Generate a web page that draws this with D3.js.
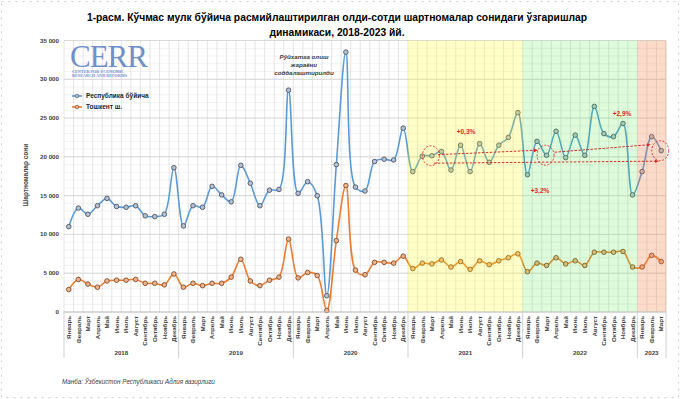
<!DOCTYPE html>
<html>
<head>
<meta charset="utf-8">
<script src="https://cdn.jsdelivr.net/npm/d3@7"></script>
<style>
  body { margin: 0; background: #fff; }
  svg { font-family: "Liberation Sans", Arial, sans-serif; }
</style>
</head>
<body>
<div class="chart"></div>
<script>
//chart data
var years = ['2018', '2019', '2020', '2021', '2022', '2023'];
var monthNames = ['Январь', 'Февраль', 'Март', 'Апрель', 'Май', 'Июнь', 'Июль',
  'Август', 'Сентябрь', 'Октябрь', 'Ноябрь', 'Декабрь'];
var monthsPerYear = [12, 12, 12, 12, 12, 3];

var respublika = [
  11000, 13400, 12600, 13700, 14650, 13600, 13500, 13700, 12400, 12300, 12600, 18600,
  11100, 13700, 13500, 16200, 15100, 14200, 18900, 16600, 13700, 15700, 15800, 28600,
  15300, 16800, 15000, 2100, 19000, 33500, 16100, 15600, 19400, 19700, 19600, 23700,
  18100, 20100, 20150, 20700, 18300, 21500, 18100, 21700, 19300, 21500, 22500, 25700,
  17700, 22000, 20210, 23300, 19900, 22800, 20200, 26500, 23000, 22600, 24300, 15100,
  18100, 22600, 20800
];
var toshkent = [
  2900, 4200, 3600, 3200, 4000, 4100, 4100, 4200, 3700, 3700, 3500, 4900,
  3200, 3700, 3400, 3700, 3700, 4500, 6800, 4000, 3400, 4100, 4500, 9400,
  4400, 5100, 4700, 200, 9200, 16300, 5400, 4800, 6400, 6400, 6300, 7200,
  5600, 6300, 6200, 6700, 5800, 6500, 5500, 6600, 6100, 6600, 7000, 7500,
  5200, 6300, 6000, 7000, 6200, 6600, 6000, 7700, 7700, 7700, 7800, 5800,
  5800, 7300, 6500
];
var yTicks = [0, 5000, 10000, 15000, 20000, 25000, 30000, 35000];
var seriesNames = ['Республика бўйича', 'Тошкент ш.'];
//shaded years
var bandYears = [
  { year: '2021', color: 'rgba(255,255,0,0.22)' },
  { year: '2022', color: 'rgba(60,235,40,0.17)' },
  { year: '2023', color: 'rgba(245,115,50,0.26)' }
];
//march-to-march changes
var changes = [
  { label: '+0,3%', from: '2021|Март', to: '2022|Март' },
  { label: '+2,9%', from: '2022|Март', to: '2023|Март' },
  { label: '+3,2%', from: '2021|Март', to: '2023|Март' }
];

//build categories
var categories = [];
years.forEach(function(y, i){
  for (var m = 0; m < monthsPerYear[i]; m++) {
    categories.push({ key: y + '|' + monthNames[m], year: y, month: monthNames[m] });
  }
});

var width = 680, height = 399;
var plot = { left: 64, right: 666, top: 40.5, bottom: 312 };

var svg = d3.select('.chart')
  .append('svg')
    .attr('width', width)
    .attr('height', height);

var x = d3.scaleBand()
  .domain(categories.map(function(d){ return d.key }))
  .range([plot.left, plot.right])
  .padding(0);

var y = d3.scaleLinear()
  .domain([0, 35000])
  .range([plot.bottom, plot.top]);

var cx = function(key){ return x(key) + x.bandwidth() / 2 };
var fmt = function(v){ return v === 0 ? '0' : d3.format(',')(v).replace(/,/g, ' ') };

//page border
svg.append('rect')
  .attr('x', 1.5).attr('y', 1.5)
  .attr('width', width - 3).attr('height', height - 3)
  .attr('fill', 'none')
  .attr('stroke', '#d0d0d0')
  .attr('stroke-dasharray', '2,5');

//grid
var grid = svg.append('g');
grid.selectAll('.minor')
  .data(d3.range(0, 35001, 1000))
  .enter().append('line')
    .attr('x1', plot.left).attr('x2', plot.right)
    .attr('y1', function(d){ return y(d) }).attr('y2', function(d){ return y(d) })
    .attr('stroke', '#ececec').attr('stroke-width', 0.7);
grid.selectAll('.vline')
  .data(categories)
  .enter().append('line')
    .attr('x1', function(d){ return x(d.key) }).attr('x2', function(d){ return x(d.key) })
    .attr('y1', plot.top).attr('y2', plot.bottom)
    .attr('stroke', '#dadada').attr('stroke-width', 0.7);
grid.append('line')
  .attr('x1', plot.right).attr('x2', plot.right)
  .attr('y1', plot.top).attr('y2', plot.bottom)
  .attr('stroke', '#d0d0d0');
grid.selectAll('.major')
  .data(yTicks)
  .enter().append('line')
    .attr('x1', plot.left).attr('x2', plot.right)
    .attr('y1', function(d){ return y(d) }).attr('y2', function(d){ return y(d) })
    .attr('stroke', '#d0d0d0').attr('stroke-width', 0.8);

//y axis labels
svg.selectAll('.ytick')
  .data(yTicks)
  .enter().append('text')
    .attr('x', 59)
    .attr('y', function(d){ return y(d) + 2 })
    .attr('text-anchor', 'end')
    .attr('font-size', 6.2)
    .attr('font-weight', 'bold')
    .attr('fill', '#404040')
    .text(fmt);

svg.append('text')
  .attr('transform', 'translate(28,175) rotate(-90)')
  .attr('text-anchor', 'middle')
  .attr('font-size', 6.5)
  .attr('font-weight', 'bold')
  .attr('fill', '#404040')
  .text('Шартномалар сони');

//logo
var logo = svg.append('g');
logo.append('text')
  .attr('x', 70).attr('y', 67)
  .attr('font-family', '"Liberation Serif", "DejaVu Serif", serif')
  .attr('font-size', 31)
  .attr('letter-spacing', -1)
  .attr('fill', '#6f8fc9')
  .text('CERR');
logo.selectAll('.sub')
  .data(['CENTER FOR ECONOMIC', 'RESEARCH AND REFORMS'])
  .enter().append('text')
    .attr('x', 72)
    .attr('y', function(d, i){ return 73 + i * 4.3 })
    .attr('font-family', '"Liberation Serif", serif')
    .attr('font-size', 4.2)
    .attr('font-weight', 'bold')
    .attr('fill', '#6f8fc9')
    .text(function(d){ return d });

//series
var seriesStyles = [
  { data: respublika, color: '#5b9bd5', stroke: '#4a5566', fill: '#b6c2d2' },
  { data: toshkent, color: '#ed7d31', stroke: '#7d4a2a', fill: '#f1b48a' }
];

var line = d3.line()
  .x(function(d){ return cx(d.key) })
  .y(function(d){ return y(d.v) })
  .curve(d3.curveCatmullRom.alpha(0.5));

seriesStyles.slice().reverse().forEach(function(s){
  var pts = categories.map(function(c, i){ return { key: c.key, v: s.data[i] } });
  svg.append('path')
    .datum(pts)
    .attr('d', line)
    .attr('fill', 'none')
    .attr('stroke', s.color)
    .attr('stroke-width', 1.6);
  svg.append('g').selectAll('circle')
    .data(pts)
    .enter().append('circle')
      .attr('cx', function(d){ return cx(d.key) })
      .attr('cy', function(d){ return y(d.v) })
      .attr('r', 2.3)
      .attr('fill', s.fill)
      .attr('stroke', s.stroke)
      .attr('stroke-width', 0.9);
});

//year shading over lines
bandYears.forEach(function(b){
  var keys = categories.filter(function(c){ return c.year === b.year });
  var x0 = x(keys[0].key), x1 = x(keys[keys.length - 1].key) + x.bandwidth();
  svg.append('rect')
    .attr('x', x0).attr('y', plot.top)
    .attr('width', x1 - x0).attr('height', plot.bottom - plot.top)
    .attr('fill', b.color);
});

//x axis
svg.append('line')
  .attr('x1', plot.left).attr('x2', plot.right)
  .attr('y1', plot.bottom).attr('y2', plot.bottom)
  .attr('stroke', '#c8c8c8');

svg.selectAll('.mlabel')
  .data(categories)
  .enter().append('text')
    .attr('transform', function(d){ return 'translate(' + (cx(d.key) + 2.2) + ',316) rotate(-90)' })
    .attr('text-anchor', 'end')
    .attr('font-size', 6.2)
    .attr('font-weight', 'bold')
    .attr('fill', '#404040')
    .text(function(d){ return d.month });

//year labels and separators
var seps = [plot.left];
years.forEach(function(yr){
  var keys = categories.filter(function(c){ return c.year === yr });
  var x0 = x(keys[0].key), x1 = x(keys[keys.length - 1].key) + x.bandwidth();
  seps.push(x1);
  svg.append('text')
    .attr('x', (x0 + x1) / 2)
    .attr('y', 355)
    .attr('text-anchor', 'middle')
    .attr('font-size', 6.2)
    .attr('font-weight', 'bold')
    .attr('fill', '#404040')
    .text(yr);
});
svg.selectAll('.sep')
  .data(seps)
  .enter().append('line')
    .attr('x1', function(d){ return d }).attr('x2', function(d){ return d })
    .attr('y1', plot.bottom).attr('y2', 358)
    .attr('stroke', '#d0d0d0');

//legend
var legend = svg.append('g');
seriesStyles.forEach(function(s, i){
  var ly = 96 + i * 11;
  legend.append('line')
    .attr('x1', 72).attr('x2', 82).attr('y1', ly).attr('y2', ly)
    .attr('stroke', s.color).attr('stroke-width', 1.6);
  legend.append('circle')
    .attr('cx', 77).attr('cy', ly).attr('r', 1.8)
    .attr('fill', s.fill).attr('stroke', s.stroke).attr('stroke-width', 0.7);
  legend.append('text')
    .attr('x', 86).attr('y', ly + 2.2)
    .attr('font-size', 6.5)
    .attr('font-weight', 'bold')
    .attr('fill', '#262626')
    .text(seriesNames[i]);
});

//note about registration
svg.selectAll('.note')
  .data(['Рўйхатга олиш', 'жараёни', 'соддалаштирилди'])
  .enter().append('text')
    .attr('x', 304)
    .attr('y', function(d, i){ return 58.5 + i * 8 })
    .attr('text-anchor', 'middle')
    .attr('font-size', 6.2)
    .attr('font-style', 'italic')
    .attr('font-weight', 'bold')
    .attr('fill', '#404040')
    .text(function(d){ return d });

//change annotations
var red = '#e0282a';
svg.append('defs').append('marker')
  .attr('id', 'arr')
  .attr('viewBox', '0 0 10 10')
  .attr('refX', 9).attr('refY', 5)
  .attr('markerWidth', 4).attr('markerHeight', 4)
  .attr('orient', 'auto')
  .append('path')
    .attr('d', 'M0,0L10,5L0,10z')
    .attr('fill', red);

var valOf = function(key){
  return respublika[categories.findIndex(function(c){ return c.key === key })];
};

['2021|Март', '2022|Март', '2023|Март'].forEach(function(k){
  svg.append('ellipse')
    .attr('cx', cx(k) - 1).attr('cy', y(valOf(k)))
    .attr('rx', 8.5).attr('ry', 10)
    .attr('fill', 'none')
    .attr('stroke', red)
    .attr('stroke-width', 0.9)
    .attr('stroke-dasharray', '2,1.5');
});

var arrowSpecs = [
  { c: changes[0], dx0: 6, dy0: -1, dx1: -9, dy1: -5, lx: 466, ly: 134 },
  { c: changes[1], dx0: 8, dy0: -3, dx1: -11, dy1: -6, lx: 622, ly: 116 },
  { c: changes[2], dx0: 2, dy0: 7.5, dx1: -3, dy1: 10.5, lx: 540, ly: 193 }
];
arrowSpecs.forEach(function(a){
  svg.append('line')
    .attr('x1', cx(a.c.from) + a.dx0).attr('y1', y(valOf(a.c.from)) + a.dy0)
    .attr('x2', cx(a.c.to) + a.dx1).attr('y2', y(valOf(a.c.to)) + a.dy1)
    .attr('stroke', red)
    .attr('stroke-width', 1)
    .attr('stroke-dasharray', '2.5,1.5')
    .attr('marker-end', 'url(#arr)');
  svg.append('text')
    .attr('x', a.lx).attr('y', a.ly)
    .attr('text-anchor', 'middle')
    .attr('font-size', 6.5)
    .attr('font-weight', 'bold')
    .attr('fill', red)
    .text(a.c.label);
});

//title
svg.selectAll('.title')
  .data(['1-расм. Кўчмас мулк бўйича расмийлаштирилган олди-сотди шартномалар сонидаги ўзгаришлар',
         'динамикаси, 2018-2023 йй.'])
  .enter().append('text')
    .attr('x', 337)
    .attr('y', function(d, i){ return 21 + i * 15 })
    .attr('text-anchor', 'middle')
    .attr('font-size', 10.3)
    .attr('font-weight', 'bold')
    .attr('fill', '#000')
    .text(function(d){ return d });

//source
svg.append('text')
  .attr('x', 62).attr('y', 384)
  .attr('font-size', 6.3)
  .attr('font-style', 'italic')
  .attr('fill', '#404040')
  .text('Манба: Ўзбекистон Республикаси Адлия вазирлиги');
</script>
</body>
</html>
